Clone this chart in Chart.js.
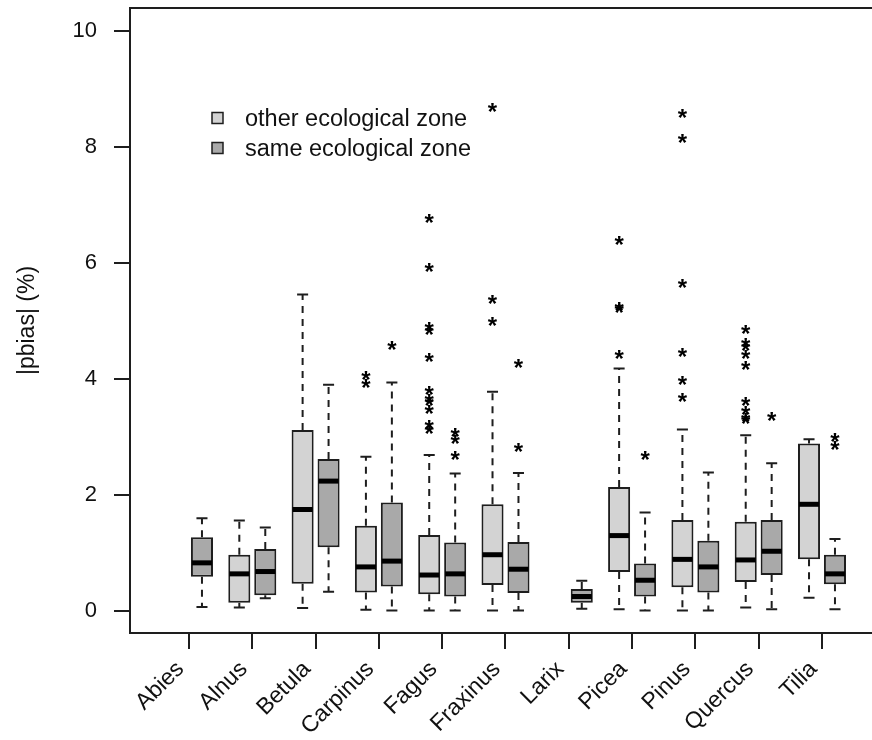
<!DOCTYPE html>
<html>
<head>
<meta charset="utf-8">
<script src="https://cdn.jsdelivr.net/npm/chart.js@4.4.1/dist/chart.umd.min.js"></script>
<style>
  html, body { margin: 0; padding: 0; background: #fff; }
</style>
</head>
<body>
<canvas id="grafico" width="872" height="740"></canvas>
<script>
// Especies (eje x)
const especies = ['Abies', 'Alnus', 'Betula', 'Carpinus', 'Fagus', 'Fraxinus', 'Larix', 'Picea', 'Pinus', 'Quercus', 'Tilia'];
const ticksY = [0, 2, 4, 6, 8, 10];

// other ecological zone (null = sin caja)
const otraMin = [null, 0.06, 0.05, 0.02, 0.01, 0.01, null, 0.03, 0.01, 0.06, 0.23];
const otraQ1  = [null, 0.14, 0.47, 0.32, 0.29, 0.45, null, 0.67, 0.41, 0.50, 0.89];
const otraMed = [null, 0.64, 1.75, 0.76, 0.62, 0.97, null, 1.30, 0.89, 0.88, 1.84];
const otraQ3  = [null, 0.97, 3.12, 1.47, 1.31, 1.84, null, 2.14, 1.57, 1.54, 2.89];
const otraMax = [null, 1.56, 5.46, 2.66, 2.69, 3.78, null, 4.18, 3.13, 3.03, 2.96];
const otraAtipicos = [
  [], [], [], [3.90, 4.04],
  [3.11, 3.19, 3.45, 3.59, 3.64, 3.78, 4.34, 4.82, 4.88, 5.89, 6.75],
  [4.96, 5.34, 8.66], [],
  [4.40, 5.19, 5.22, 6.36],
  [3.65, 3.95, 4.44, 5.62, 8.12, 8.56],
  [3.28, 3.31, 3.43, 3.58, 4.21, 4.39, 4.53, 4.60, 4.83],
  []
];

// same ecological zone
const mismaMin = [0.07, 0.22, 0.33, 0.01, 0.01, 0.01, 0.04, 0.01, 0.01, 0.03, 0.03];
const mismaQ1  = [0.59, 0.27, 1.10, 0.42, 0.25, 0.31, 0.14, 0.25, 0.32, 0.62, 0.46];
const mismaMed = [0.83, 0.68, 2.24, 0.86, 0.64, 0.72, 0.25, 0.53, 0.76, 1.03, 0.64];
const mismaQ3  = [1.27, 1.07, 2.62, 1.87, 1.18, 1.19, 0.38, 0.82, 1.21, 1.57, 0.97];
const mismaMax = [1.60, 1.44, 3.90, 3.94, 2.37, 2.38, 0.52, 1.70, 2.39, 2.55, 1.24];
const mismaAtipicos = [
  [], [], [], [4.56], [2.66, 2.94, 3.06], [2.79, 4.25], [], [2.66], [], [3.32], [2.82, 2.96]
];

const fuente = "'Liberation Sans', Arial, sans-serif";
const colorLinea = '#1e1e1e';

function armarCajas(q1, q3) {
  const datos = [];
  q1.forEach((v, i) => {
    if (v !== null) datos.push({ x: i + 1, y: [v, q3[i]] });
  });
  return datos;
}

const resumen = [
  { min: otraMin, med: otraMed, max: otraMax, atipicos: otraAtipicos },
  { min: mismaMin, med: mismaMed, max: mismaMax, atipicos: mismaAtipicos }
];

// dibuja medianas, bigotes y valores atipicos sobre cada caja
const pluginCajas = {
  id: 'cajas',
  afterDatasetsDraw(chart) {
    const ctx = chart.ctx;
    const escalaY = chart.scales.y;
    chart.data.datasets.forEach((ds, d) => {
      const meta = chart.getDatasetMeta(d);
      const r = resumen[d];
      meta.data.forEach((barra, k) => {
        const i = ds.data[k].x - 1;
        const cx = barra.x;
        const mitad = barra.width / 2;
        const yQ1 = escalaY.getPixelForValue(ds.data[k].y[0]);
        const yQ3 = escalaY.getPixelForValue(ds.data[k].y[1]);
        const yMin = escalaY.getPixelForValue(r.min[i]);
        const yMax = escalaY.getPixelForValue(r.max[i]);
        const yMed = escalaY.getPixelForValue(r.med[i]);

        ctx.save();
        ctx.strokeStyle = colorLinea;
        ctx.lineWidth = 2;
        ctx.setLineDash([7, 6]);
        ctx.beginPath();
        ctx.moveTo(cx, yQ3); ctx.lineTo(cx, yMax);
        ctx.moveTo(cx, yQ1); ctx.lineTo(cx, yMin);
        ctx.stroke();
        ctx.setLineDash([]);
        ctx.beginPath();
        ctx.moveTo(cx - mitad / 2, yMax); ctx.lineTo(cx + mitad / 2, yMax);
        ctx.moveTo(cx - mitad / 2, yMin); ctx.lineTo(cx + mitad / 2, yMin);
        ctx.stroke();

        ctx.strokeStyle = '#000';
        ctx.lineWidth = 5;
        ctx.beginPath();
        ctx.moveTo(cx - mitad + 1, yMed); ctx.lineTo(cx + mitad - 1, yMed);
        ctx.stroke();

        ctx.fillStyle = '#000';
        ctx.font = 'bold 24px ' + fuente;
        ctx.textAlign = 'center';
        ctx.textBaseline = 'alphabetic';
        r.atipicos[i].forEach(v => {
          ctx.fillText('*', cx, escalaY.getPixelForValue(v) + 11);
        });
        ctx.restore();
      });
    });
  },
  afterDraw(chart) {
    const ctx = chart.ctx;
    const area = chart.chartArea;
    const escalaX = chart.scales.x;
    ctx.save();
    // linea superior del marco
    ctx.strokeStyle = colorLinea;
    ctx.lineWidth = 2;
    ctx.beginPath();
    ctx.moveTo(area.left - 1, area.top);
    ctx.lineTo(area.right, area.top);
    ctx.stroke();

    // etiquetas del eje x, giradas 45 grados y terminadas en cada marca
    ctx.fillStyle = '#111';
    ctx.font = '23px ' + fuente;
    ctx.textAlign = 'right';
    ctx.textBaseline = 'alphabetic';
    especies.forEach((nombre, i) => {
      const px = escalaX.getPixelForValue(i + 1);
      ctx.save();
      ctx.translate(px - 4, area.bottom + 37);
      ctx.rotate(-Math.PI / 4);
      ctx.fillText(nombre, 0, 0);
      ctx.restore();
    });

    // leyenda
    const items = [
      { texto: 'other ecological zone', color: '#d3d3d3' },
      { texto: 'same ecological zone', color: '#a9a9a9' }
    ];
    ctx.font = '23.5px ' + fuente;
    ctx.textBaseline = 'middle';
    ctx.textAlign = 'left';
    items.forEach((it, n) => {
      const y = 118 + n * 30;
      ctx.fillStyle = it.color;
      ctx.fillRect(212, y - 5.5, 11, 11);
      ctx.lineWidth = 1.5;
      ctx.strokeStyle = colorLinea;
      ctx.strokeRect(212, y - 5.5, 11, 11);
      ctx.fillStyle = '#111';
      ctx.fillText(it.texto, 245, y + 2);
    });
    ctx.restore();
  }
};

new Chart(document.getElementById('grafico'), {
  type: 'bar',
  data: {
    datasets: [
      {
        label: 'other ecological zone',
        data: armarCajas(otraQ1, otraQ3),
        backgroundColor: '#d3d3d3',
        borderColor: colorLinea,
        borderWidth: 2,
        borderSkipped: false
      },
      {
        label: 'same ecological zone',
        data: armarCajas(mismaQ1, mismaQ3),
        backgroundColor: '#a9a9a9',
        borderColor: colorLinea,
        borderWidth: 2,
        borderSkipped: false
      }
    ]
  },
  options: {
    responsive: false,
    animation: false,
    categoryPercentage: 0.82,
    barPercentage: 0.85,
    layout: { padding: { top: 8, right: 0, left: 0, bottom: 0 } },
    plugins: {
      legend: { display: false },
      tooltip: { enabled: false }
    },
    scales: {
      x: {
        type: 'linear',
        offset: false,
        min: 0.068,
        max: 11.79,
        afterBuildTicks: (escala) => {
          escala.ticks = especies.map((_, i) => ({ value: i + 1 }));
        },
        afterFit: (escala) => {
          escala.height = 107;
          escala.paddingLeft = 0;
          escala.paddingRight = 0;
        },
        ticks: { display: false, autoSkip: false },
        grid: {
          offset: false,
          drawOnChartArea: false,
          drawTicks: true,
          tickLength: 16,
          lineWidth: 2,
          color: colorLinea
        },
        border: { display: true, width: 2, color: colorLinea }
      },
      y: {
        min: -0.38,
        max: 10.4,
        afterBuildTicks: (escala) => {
          escala.ticks = ticksY.map(v => ({ value: v }));
        },
        afterFit: (escala) => {
          escala.width = 130;
          escala.paddingTop = 0;
          escala.paddingBottom = 0;
        },
        ticks: {
          padding: 17,
          color: '#111',
          font: { family: fuente, size: 22 }
        },
        grid: {
          drawOnChartArea: false,
          drawTicks: true,
          tickLength: 16,
          lineWidth: 2,
          color: colorLinea
        },
        border: { display: true, width: 2, color: colorLinea },
        title: {
          display: true,
          text: '|pbias| (%)',
          color: '#111',
          font: { family: fuente, size: 23 },
          padding: { top: 14, bottom: 0 }
        }
      }
    }
  },
  plugins: [pluginCajas]
});
</script>
</body>
</html>
